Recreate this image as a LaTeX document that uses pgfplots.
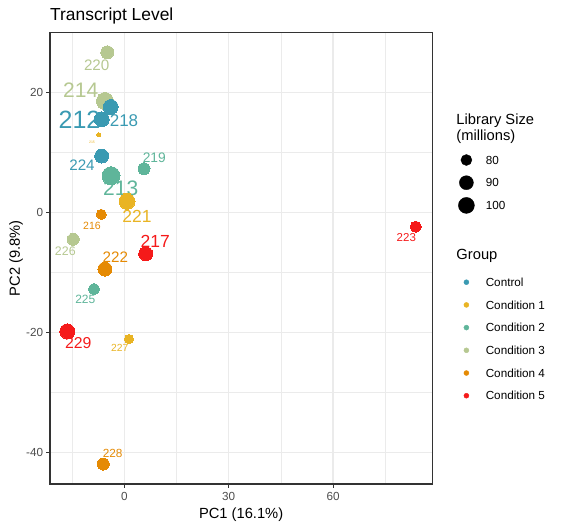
\documentclass[border=0pt]{standalone}
\usepackage{fontspec}
\setmainfont{Liberation Sans}
\usepackage{pgfplots}
\pgfplotsset{compat=1.18}
\definecolor{ctrl}{HTML}{3A9AB2}
\definecolor{cA}{HTML}{E9B424}
\definecolor{cB}{HTML}{5FB59A}
\definecolor{cC}{HTML}{B6C891}
\definecolor{cD}{HTML}{E58A04}
\definecolor{cE}{HTML}{F51A1A}
\definecolor{gtwenty}{HTML}{333333}
\definecolor{gthirty}{HTML}{4D4D4D}
\definecolor{gridc}{HTML}{EBEBEB}
\newcommand{\fs}[2]{\fontsize{#1pt}{#2pt}\selectfont}
\pgfplotsset{
  pt/.style={only marks, mark=*, forget plot, mark size=#1pt, mark options={line width=0pt}},
  dotleg/.style={only marks, mark=*, legend image code/.code={\path (-8.2pt,0pt) (8.2pt,0pt); \draw[##1] plot coordinates {(0pt,0pt)};}},
}
\tikzset{lab/.style={anchor=center, inner sep=0pt}}
\begin{document}
\begin{tikzpicture}
\path[use as bounding box] (0,0) rectangle (562pt,529pt);
\begin{axis}[
  at={(50pt,45pt)}, anchor=south west,
  scale only axis, width=382.3pt, height=451.3pt,
  xmin=-21.35, xmax=88.5, ymin=-45.2, ymax=30.0,
  xtick={0,30,60}, ytick={-40,-20,0,20},
  minor xtick={-15,15,45,75}, minor ytick={-30,-10,10},
  grid=both,
  major grid style={line width=1.4pt, color=gridc},
  minor grid style={line width=0.7pt, color=gridc},
  tick align=outside, tick pos=left,
  major tick length=3.7pt, minor tick length=0pt,
  tick style={line width=1.1pt, color=gtwenty},
  axis line style={line width=1.1pt, color=gtwenty},
  /pgf/number format/assume math mode=true,
  ticklabel style={font=\fs{11.7}{12}, color=gthirty, inner sep=0pt},
  xticklabel style={yshift=-4.5pt},
  yticklabel style={xshift=-3pt},
  xlabel={PC1 (16.1\%)}, ylabel={PC2 (9.8\%)},
  label style={font=\fs{14.7}{15}, inner sep=0pt},
  xlabel style={at={(axis description cs:0.5,-0.0687)}, anchor=center},
  ylabel style={at={(axis description cs:-0.0890,0.5)}, anchor=center},
  title={Transcript Level},
  title style={at={(axis description cs:0,1.0147)}, anchor=base west, font=\fs{17.4}{18}, inner sep=0pt},
  legend cell align=left,
  legend style={at={(1.0672,0.8206)}, anchor=north west,
    draw=none, fill=none, inner sep=0pt, outer sep=0pt,
    row sep=0pt, column sep=11pt, font=\fs{11.7}{12},
    nodes={inner sep=0pt, text depth=, text height=},
    cells={anchor=west}},
]
% Condition 3
\addplot[pt=6.5, color=cC] coordinates {(-4.89,26.73)};
\addplot[pt=8.5, color=cC] coordinates {(-5.55,18.62)};
\addplot[pt=6, color=cC] coordinates {(-14.66,-4.43)};
% Control
\addplot[pt=7.5, color=ctrl] coordinates {(-3.91,17.62)};
\addplot[pt=7.5, color=ctrl] coordinates {(-6.49,15.57)};
\addplot[pt=7, color=ctrl] coordinates {(-6.49,9.45)};
% Condition 1
\addplot[pt=2, color=cA] coordinates {(-7.36,13.0)};
\addplot[pt=8, color=cA] coordinates {(0.78,1.9)};
\addplot[pt=4.5, color=cA] coordinates {(1.35,-21.05)};
% Condition 2
\addplot[pt=9, color=cB] coordinates {(-3.82,6.17)};
\addplot[pt=6, color=cB] coordinates {(5.66,7.33)};
\addplot[pt=5.5, color=cB] coordinates {(-8.71,-12.72)};
% Condition 4
\addplot[pt=5, color=cD] coordinates {(-6.61,-0.27)};
\addplot[pt=7, color=cD] coordinates {(-5.55,-9.38)};
\addplot[pt=6, color=cD] coordinates {(-6.03,-41.88)};
% Condition 5
\addplot[pt=7, color=cE] coordinates {(6.15,-6.83)};
\addplot[pt=5.5, color=cE] coordinates {(83.74,-2.33)};
\addplot[pt=7.5, color=cE] coordinates {(-16.38,-19.77)};
% labels
\node[lab, text=ctrl, font=\fs{25}{25}] at (axis cs:-12.87,15.45) {212};
\node[lab, text=ctrl, font=\fs{17}{17}] at (axis cs:-0.09,15.33) {218};
\node[lab, text=ctrl, font=\fs{15.2}{15}] at (axis cs:-12.16,7.95) {224};
\node[lab, text=cA, font=\fs{17.5}{17}] at (axis cs:3.65,-0.67) {221};
\node[lab, text=cA, font=\fs{10.3}{10}] at (axis cs:-1.32,-22.6) {227};
\node[lab, text=cA, font=\fs{3.5}{4}] at (axis cs:-9.28,11.73) {215};
\node[lab, text=cB, font=\fs{21}{21}] at (axis cs:-1.03,4.07) {213};
\node[lab, text=cB, font=\fs{13.8}{14}] at (axis cs:8.62,9.17) {219};
\node[lab, text=cB, font=\fs{12}{12}] at (axis cs:-11.21,-14.43) {225};
\node[lab, text=cC, font=\fs{15.2}{15}] at (axis cs:-7.93,24.5) {220};
\node[lab, text=cC, font=\fs{21}{21}] at (axis cs:-12.53,20.45) {214};
\node[lab, text=cC, font=\fs{12.4}{12}] at (axis cs:-16.95,-6.43) {226};
\node[lab, text=cD, font=\fs{10.5}{10}] at (axis cs:-9.28,-2.22) {216};
\node[lab, text=cD, font=\fs{15.2}{15}] at (axis cs:-2.59,-7.43) {222};
\node[lab, text=cD, font=\fs{11.8}{12}] at (axis cs:-3.33,-40.17) {228};
\node[lab, text=cE, font=\fs{17.5}{17}] at (axis cs:8.91,-4.83) {217};
\node[lab, text=cE, font=\fs{11.5}{12}] at (axis cs:81.03,-4.1) {223};
\node[lab, text=cE, font=\fs{15.8}{16}] at (axis cs:-13.22,-21.77) {229};
% legend
\addlegendimage{empty legend}
\addlegendentry{\hspace*{-29.3pt}\parbox[c][35pt][t]{120pt}{\fs{14.7}{16}Library Size\\(millions)}}
\addlegendimage{dotleg, black, mark size=5.5pt}
\addlegendentry{\rule[-7.2pt]{0pt}{22.7pt}80}
\addlegendimage{dotleg, black, mark size=7pt}
\addlegendentry{\rule[-7.2pt]{0pt}{22.7pt}90}
\addlegendimage{dotleg, black, mark size=8pt}
\addlegendentry{\rule[-7.2pt]{0pt}{22.7pt}100}
\addlegendimage{empty legend}
\addlegendentry{\rule{0pt}{20.6pt}}
\addlegendimage{empty legend}
\addlegendentry{\hspace*{-29.3pt}\fs{14.7}{16}\rule[-11.5pt]{0pt}{33.5pt}Group}
\addlegendimage{dotleg, color=ctrl, mark size=2.5pt}
\addlegendentry{\rule[-7.2pt]{0pt}{22.7pt}Control}
\addlegendimage{dotleg, color=cA, mark size=2.5pt}
\addlegendentry{\rule[-7.2pt]{0pt}{22.7pt}Condition 1}
\addlegendimage{dotleg, color=cB, mark size=2.5pt}
\addlegendentry{\rule[-7.2pt]{0pt}{22.7pt}Condition 2}
\addlegendimage{dotleg, color=cC, mark size=2.5pt}
\addlegendentry{\rule[-7.2pt]{0pt}{22.7pt}Condition 3}
\addlegendimage{dotleg, color=cD, mark size=2.5pt}
\addlegendentry{\rule[-7.2pt]{0pt}{22.7pt}Condition 4}
\addlegendimage{dotleg, color=cE, mark size=2.5pt}
\addlegendentry{\rule[-7.2pt]{0pt}{22.7pt}Condition 5}
\end{axis}
\end{tikzpicture}
\end{document}
